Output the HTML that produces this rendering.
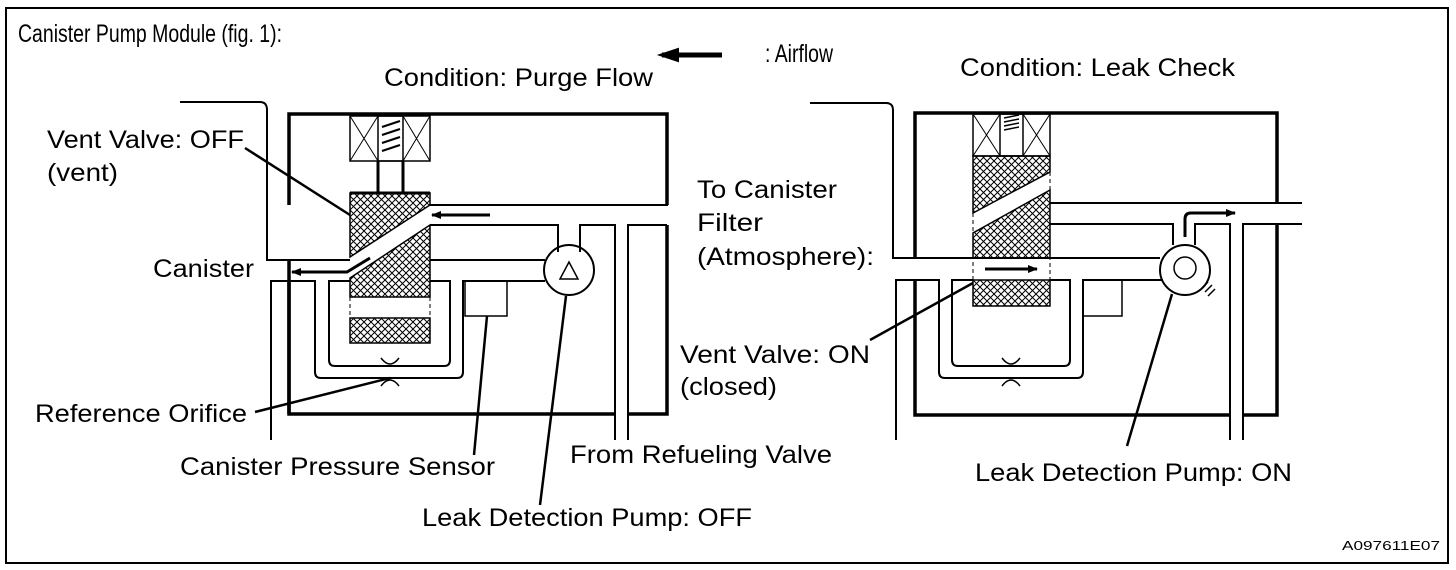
<!DOCTYPE html>
<html><head><meta charset="utf-8"><style>
html,body{margin:0;padding:0;background:#fff;}
svg{display:block;}
text{font-family:"Liberation Sans",Arial,sans-serif;font-size:25px;fill:#000;}
</style></head><body>
<svg width="1456" height="570" viewBox="0 0 1456 570" xmlns="http://www.w3.org/2000/svg">
<defs>
<pattern id="h" width="7" height="7" patternUnits="userSpaceOnUse">
<path d="M0,0L7,7M7,0L0,7" stroke="#000" stroke-width="1"/>
</pattern>
<marker id="ah" markerWidth="10" markerHeight="8" refX="9" refY="4" orient="auto" markerUnits="userSpaceOnUse">
<path d="M0,0L10,4L0,8z" fill="#000"/>
</marker>
</defs>
<rect x="6" y="8" width="1442" height="555" fill="none" stroke="#000" stroke-width="2"/>

<g fill="none" stroke="#000" stroke-width="2">
<path d="M289,205 V114 H667 V205 M667,225 V414 H628 M615,414 H289 V260" stroke-width="3.5"/>
<path d="M289,281 V414" stroke-width="3.5"/>
<path d="M180,102 H260 Q267,102 267,110 V260 H350"/>
<path d="M271,440 V281 H315 V372 Q315,378 321,378 H457 Q463,378 463,372 V281 H545"/>
<path d="M350,281 H329 V360 Q329,366 335,366 H444 Q450,366 450,360 V281 H430"/>
<path d="M381,358 Q390,370 399,358 M381,386 Q390,374 399,386" stroke-width="1.5"/>
<rect x="350" y="116" width="80" height="45" stroke-width="1.5"/>
<path d="M350,116L378,161M378,116L350,161M403,116L430,161M430,116L403,161" stroke-width="1"/>
<rect x="378" y="116" width="25" height="45" stroke-width="1.5"/>
<path d="M382,127L400,121M382,135L400,129M382,143L400,137M382,151L400,145" stroke-width="2"/>
<path d="M378,161V193M403,161V193" stroke-width="3"/>
<path d="M350,193H430V205L350,257Z" fill="url(#h)" stroke-width="1.5"/>
<path d="M350,193H430" stroke-width="3"/>
<path d="M430,225L350,278V297H430Z" fill="url(#h)" stroke-width="1.5"/>
<path d="M350,297V318M430,297V318" stroke-dasharray="4,3" stroke-width="1"/>
<rect x="350" y="318" width="80" height="25" fill="url(#h)" stroke-width="1.5"/>
<path d="M430,205H668"/>
<path d="M430,225H558V252M580,252V225H615V440M628,440V225H667"/>
<path d="M430,260H545"/>
<circle cx="569" cy="270" r="25"/>
<path d="M560,279L569,262L578,279Z" stroke-width="1.5"/>
<rect x="465" y="281" width="42" height="35" stroke-width="1.5"/>
<path d="M490,215H432" stroke-width="3" marker-end="url(#ah)"/>
<path d="M370,258L347,272H292" stroke-width="3" marker-end="url(#ah)"/>
<path d="M662,55H722" stroke-width="5"/>
<path d="M660,55L678,49V61Z" fill="#000"/>
<path d="M245,148L350,215M255,412L390,378M474,455L487,316M540,505L566,296" stroke-width="2.5"/>

<path d="M915,258V113H1277V203M1277,224V415H1243M1230,415H915V280" stroke-width="3.5"/>
<path d="M810,103H886Q893,103 893,110V258H973"/>
<path d="M896,440V280H939V372Q939,378 945,378H1077Q1083,378 1083,372V280H1163"/>
<path d="M973,280H952V360Q952,366 958,366H1064Q1070,366 1070,360V280H1050"/>
<path d="M1002,358Q1011,370 1020,358M1002,386Q1011,374 1020,386" stroke-width="1.5"/>
<rect x="973" y="114" width="77" height="42" stroke-width="1.5"/>
<path d="M973,114L1000,156M1000,114L973,156M1023,114L1050,156M1050,114L1023,156" stroke-width="1"/>
<rect x="1000" y="114" width="23" height="42" stroke-width="1.5"/>
<path d="M1004,118L1019,115M1004,122L1019,119M1004,126L1019,123M1004,130L1019,127" stroke-width="1.5"/>
<path d="M973,156H1050V172L973,213Z" fill="url(#h)" stroke-width="1.5"/>
<path d="M1050,190L973,233V258H1050Z" fill="url(#h)" stroke-width="1.5"/>
<path d="M973,213V280M1050,172V280" stroke-dasharray="4,3" stroke-width="1"/>
<path d="M973,258H1050" stroke-width="2"/>
<rect x="973" y="280" width="77" height="26" fill="url(#h)" stroke-width="1.5"/>
<path d="M1050,203H1302"/>
<path d="M1050,224H1173V245M1195,245V224H1230V440M1243,440V224H1302"/>
<path d="M1050,258H1160"/>
<circle cx="1185" cy="270" r="25"/>
<circle cx="1185" cy="268" r="11" stroke-width="1.5"/>
<path d="M1202,288L1208,282M1205,292L1212,285M1208,296L1215,289" stroke-width="1.5"/>
<rect x="1083" y="280" width="39" height="36" stroke-width="1.5"/>
<path d="M985,269H1037" stroke-width="3" marker-end="url(#ah)"/>
<path d="M1185,237V219Q1185,213 1191,213H1235" stroke-width="3" marker-end="url(#ah)"/>
<path d="M870,340L973,283M1127,446L1172,294" stroke-width="2.5"/>
</g>

<text x="18" y="42" textLength="264" lengthAdjust="spacingAndGlyphs">Canister Pump Module (fig. 1):</text>
<text x="765" y="62" textLength="68" lengthAdjust="spacingAndGlyphs">: Airflow</text>
<text x="384" y="86" textLength="269" lengthAdjust="spacingAndGlyphs">Condition: Purge Flow</text>
<text x="960" y="76" textLength="275" lengthAdjust="spacingAndGlyphs">Condition: Leak Check</text>
<text x="47" y="148" textLength="197" lengthAdjust="spacingAndGlyphs">Vent Valve: OFF</text>
<text x="47" y="181" textLength="71" lengthAdjust="spacingAndGlyphs">(vent)</text>
<text x="153" y="277" textLength="101" lengthAdjust="spacingAndGlyphs">Canister</text>
<text x="697" y="198" textLength="140" lengthAdjust="spacingAndGlyphs">To Canister</text>
<text x="697" y="231" textLength="66" lengthAdjust="spacingAndGlyphs">Filter</text>
<text x="697" y="265" textLength="177" lengthAdjust="spacingAndGlyphs">(Atmosphere):</text>
<text x="680" y="363" textLength="190" lengthAdjust="spacingAndGlyphs">Vent Valve: ON</text>
<text x="680" y="395" textLength="97" lengthAdjust="spacingAndGlyphs">(closed)</text>
<text x="35" y="422" textLength="212" lengthAdjust="spacingAndGlyphs">Reference Orifice</text>
<text x="180" y="475" textLength="315" lengthAdjust="spacingAndGlyphs">Canister Pressure Sensor</text>
<text x="570" y="463" textLength="262" lengthAdjust="spacingAndGlyphs">From Refueling Valve</text>
<text x="422" y="526" textLength="330" lengthAdjust="spacingAndGlyphs">Leak Detection Pump: OFF</text>
<text x="975" y="481" textLength="317" lengthAdjust="spacingAndGlyphs">Leak Detection Pump: ON</text>
<text x="1342" y="550" style="font-size:13px" textLength="98" lengthAdjust="spacingAndGlyphs">A097611E07</text>
</svg>
</body></html>
